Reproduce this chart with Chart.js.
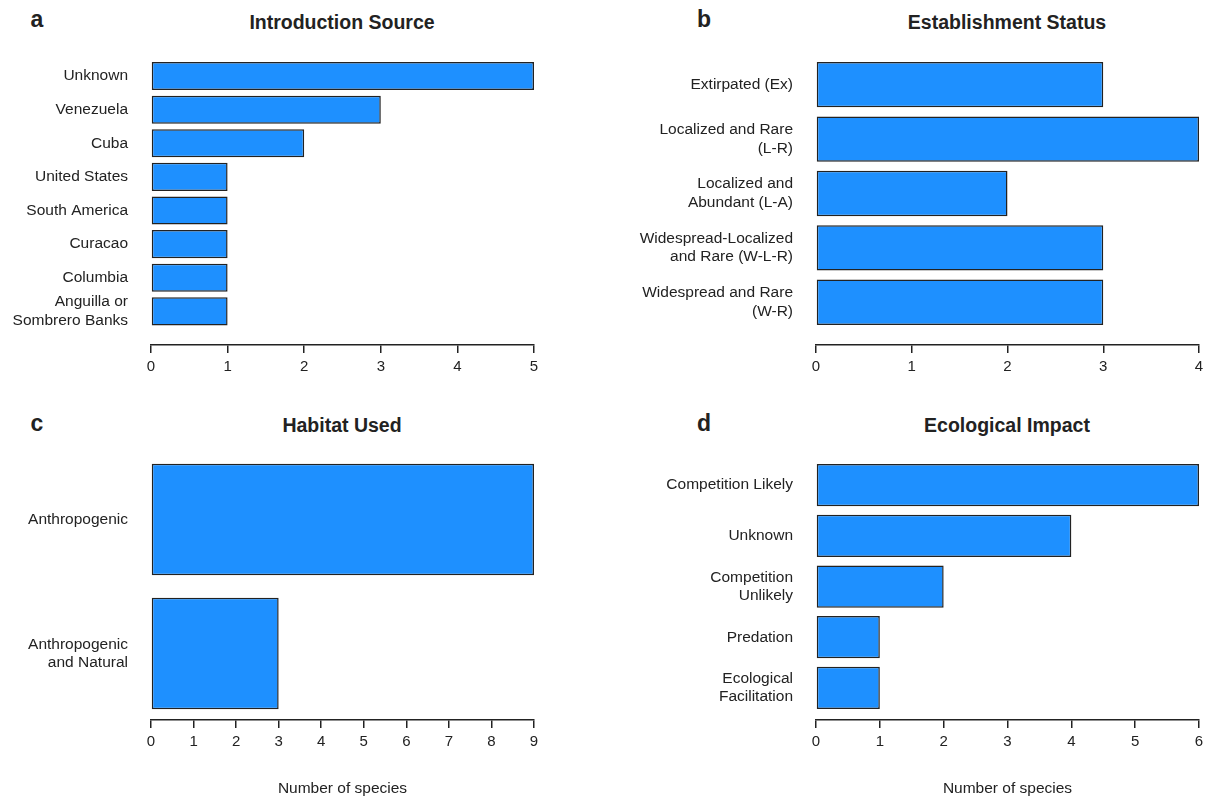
<!DOCTYPE html>
<html>
<head>
<meta charset="utf-8">
<script src="https://cdn.jsdelivr.net/npm/chart.js@4/dist/chart.umd.min.js"></script>
<style>
  body { margin: 0; background: #fff; }
  #page { position: relative; width: 1213px; height: 798px; font-family: "Liberation Sans", Arial, sans-serif; color: #222; }
  .panel { position: absolute; }
  .title { position: absolute; font-weight: bold; font-size: 19.5px; transform: translate(-50%, -50%); white-space: nowrap; }
  .letter { position: absolute; font-weight: bold; font-size: 23px; transform: translate(-50%, -50%); }
</style>
</head>
<body>
<div id="page">
  <div class="letter" style="left:37px;top:19px">a</div>
  <div class="title" style="left:342px;top:22px">Introduction Source</div>
  <div class="letter" style="left:704px;top:19px">b</div>
  <div class="title" style="left:1007px;top:22px">Establishment Status</div>
  <div class="letter" style="left:37px;top:423px">c</div>
  <div class="title" style="left:342px;top:425px">Habitat Used</div>
  <div class="letter" style="left:704px;top:423px">d</div>
  <div class="title" style="left:1007px;top:425px">Ecological Impact</div>

  <div class="panel" style="left:0;top:0;width:606px;height:399px"><canvas id="chartA"></canvas></div>
  <div class="panel" style="left:606px;top:0;width:607px;height:399px"><canvas id="chartB"></canvas></div>
  <div class="panel" style="left:0;top:399px;width:606px;height:399px"><canvas id="chartC"></canvas></div>
  <div class="panel" style="left:606px;top:399px;width:607px;height:399px"><canvas id="chartD"></canvas></div>
</div>
<script>
// a - Introduction Source
var sourceLabels = ['Unknown', 'Venezuela', 'Cuba', 'United States', 'South America', 'Curacao', 'Columbia', ['Anguilla or', 'Sombrero Banks']];
var sourceCounts = [5, 3, 2, 1, 1, 1, 1, 1];
// b - Establishment Status
var statusLabels = ['Extirpated (Ex)', ['Localized and Rare', '(L-R)'], ['Localized and', 'Abundant (L-A)'], ['Widespread-Localized', 'and Rare (W-L-R)'], ['Widespread and Rare', '(W-R)']];
var statusCounts = [3, 4, 2, 3, 3];
// c - Habitat Used
var habitatLabels = ['Anthropogenic', ['Anthropogenic', 'and Natural']];
var habitatCounts = [9, 3];
// d - Ecological Impact
var impactLabels = ['Competition Likely', 'Unknown', ['Competition', 'Unlikely'], 'Predation', ['Ecological', 'Facilitation']];
var impactCounts = [6, 4, 2, 1, 1];

var ink = '#222';

function makeChart(id, labels, counts, opt) {
    return new Chart(document.getElementById(id), {
        type: 'bar',
        data: {
            datasets: [{
                data: counts.map((v, i) => ({x: v, y: i})),
                backgroundColor: '#1E90FF',
                borderColor: ink,
                borderWidth: 1.5,
                borderSkipped: false,
                categoryPercentage: 1,
                barPercentage: 1 / 1.2
            }]
        },
        options: {
            indexAxis: 'y',
            responsive: true,
            maintainAspectRatio: false,
            animation: false,
            layout: { padding: { top: opt.top, right: opt.right, bottom: 0, left: 0 } },
            plugins: { legend: { display: false }, tooltip: { enabled: false } },
            scales: {
                y: {
                    type: 'linear',
                    reverse: true,
                    offset: false,
                    min: -0.5,
                    max: opt.yMax,
                    afterFit: s => { s.width = opt.yWidth; },
                    afterBuildTicks: s => { s.ticks = labels.map((l, i) => ({value: i})); },
                    grid: { display: false, drawTicks: false, offset: false },
                    border: { display: false },
                    ticks: {
                        autoSkip: false,
                        padding: 23,
                        color: ink,
                        font: { family: 'Liberation Sans', size: 15.5, lineHeight: 1.2 },
                        callback: v => labels[v]
                    }
                },
                x: {
                    min: 0,
                    max: opt.xMax,
                    afterFit: s => { s.height = opt.xHeight; },
                    grid: { drawOnChartArea: false, drawTicks: true, tickLength: 8, color: ink, lineWidth: 1.5 },
                    border: { display: true, color: ink, width: 1.5 },
                    ticks: {
                        stepSize: 1,
                        maxRotation: 0,
                        padding: 5,
                        color: ink,
                        font: { family: 'Liberation Sans', size: 15 }
                    },
                    title: {
                        display: opt.xTitle,
                        text: 'Number of species',
                        color: ink,
                        padding: { top: 0, bottom: 0 },
                        font: { family: 'Liberation Sans', size: 15.5 }
                    }
                }
            }
        }
    });
}

makeChart('chartA', sourceLabels, sourceCounts, { top: 59.2, right: 72, yWidth: 151, yMax: 8.0, xMax: 5, xHeight: 54, xTitle: false });
makeChart('chartB', statusLabels, statusCounts, { top: 57.5, right: 14, yWidth: 210, yMax: 4.786, xMax: 4, xHeight: 54, xTitle: false });
makeChart('chartC', habitatLabels, habitatCounts, { top: 53.5, right: 72, yWidth: 151, yMax: 1.496, xMax: 9, xHeight: 78, xTitle: true });
makeChart('chartD', impactLabels, impactCounts, { top: 60.8, right: 14, yWidth: 210, yMax: 4.633, xMax: 6, xHeight: 78, xTitle: true });
</script>
</body>
</html>
